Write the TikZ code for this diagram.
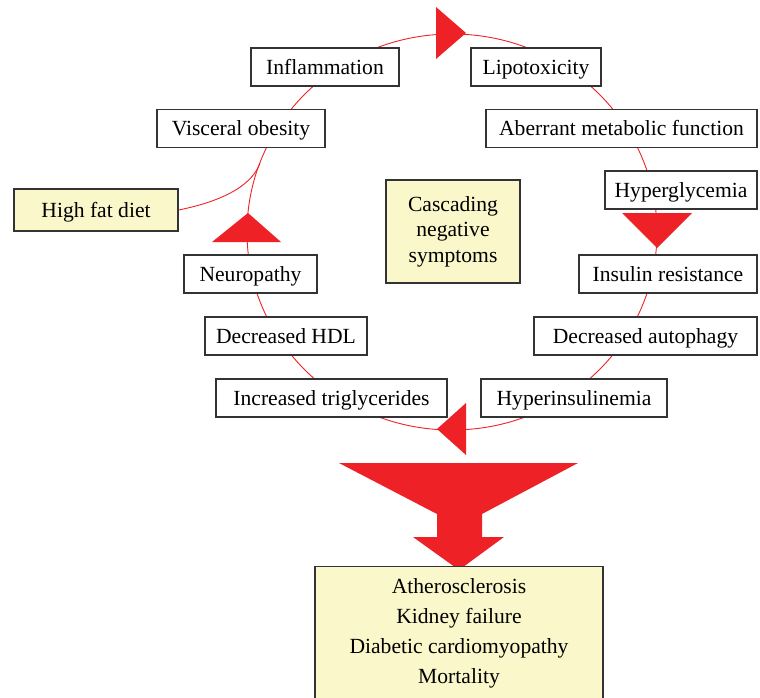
\documentclass[tikz,border=0pt]{standalone}
\usepackage{fontspec}
\setmainfont{Liberation Serif}
\definecolor{cascred}{HTML}{EE2226}
\definecolor{paleyellow}{HTML}{FAF7CB}
\newcommand{\boxfont}{\fontsize{21.6}{26}\selectfont}
\begin{document}
\begin{tikzpicture}[x=1pt,y=-1pt]
		\tikzstyle{symptom}=[draw=black!80,line width=1.3pt,fill=white,minimum height=38pt,inner sep=0pt,text height=18pt,text depth=4pt,font=\boxfont]
		\tikzstyle{cause}=[symptom,fill=paleyellow]
		\tikzstyle{loopline}=[draw=cascred,line width=0.9pt]
		\tikzstyle{redtri}=[fill=cascred]
		\useasboundingbox (0,0) rectangle (760,697);
		% the vicious circle
		\draw[loopline] (452,232) ellipse [x radius=205pt, y radius=198pt];
		\coordinate (fatjoin) at (260,163);
		% symptoms round the circle
		\node [symptom,minimum width=148pt] (infl) at (325,67) {Inflammation};
		\node [symptom,minimum width=130pt] (lipo) at (536,67) {Lipotoxicity};
		\node [symptom,minimum width=168pt] (visc) at (241,128.5) {Visceral obesity};
		\node [symptom,minimum width=271pt] (aberr) at (621.5,128.5) {Aberrant metabolic function};
		\node [symptom,minimum width=152pt] (hypergly) at (681,190) {Hyperglycemia};
		\node [symptom,minimum width=133pt] (neuro) at (250.5,274) {Neuropathy};
		\node [symptom,minimum width=178pt] (insres) at (668,274) {Insulin resistance};
		\node [symptom,minimum width=162pt] (hdl) at (286,336) {Decreased HDL};
		\node [symptom,minimum width=223pt] (autoph) at (645.5,336) {Decreased autophagy};
		\node [symptom,minimum width=231pt] (trig) at (331.5,398) {Increased triglycerides};
		\node [symptom,minimum width=186pt] (hyperins) at (574,398) {Hyperinsulinemia};
		% causes and centre
		\node [cause,minimum width=164pt,minimum height=42pt] (hfd) at (96,210) {High fat diet};
		\node [cause,minimum width=134pt,minimum height=103pt,text height=,text depth=,align=center,font=\fontsize{21.6}{25.5}\selectfont] (casc) at (453,231.5) {Cascading\\negative\\symptoms};
		\draw[loopline] (hfd.east) .. controls (228,200) and (253,183) .. (fatjoin);
		% arrow heads on the circle
		\fill[redtri] (436,7) -- (436,59) -- (466,33) -- cycle;
		\fill[redtri] (212,242) -- (281,242) -- (248,213) -- cycle;
		\fill[redtri] (622,213) -- (692,213) -- (657,248) -- cycle;
		\fill[redtri] (466,403) -- (466,455) -- (437,429) -- cycle;
		% big funnel arrow
		\fill[redtri] (339,463) -- (578,463) -- (482,514) -- (482,537) -- (504,537) -- (459,570) -- (413,537) -- (437,537) -- (437,514) -- cycle;
		\node [cause,anchor=north,minimum width=288pt,minimum height=134pt,text height=,text depth=,align=center,font=\fontsize{21.6}{30}\selectfont] (outcome) at (459,566) {Atherosclerosis\\Kidney failure\\Diabetic cardiomyopathy\\Mortality};
\end{tikzpicture}
\end{document}
